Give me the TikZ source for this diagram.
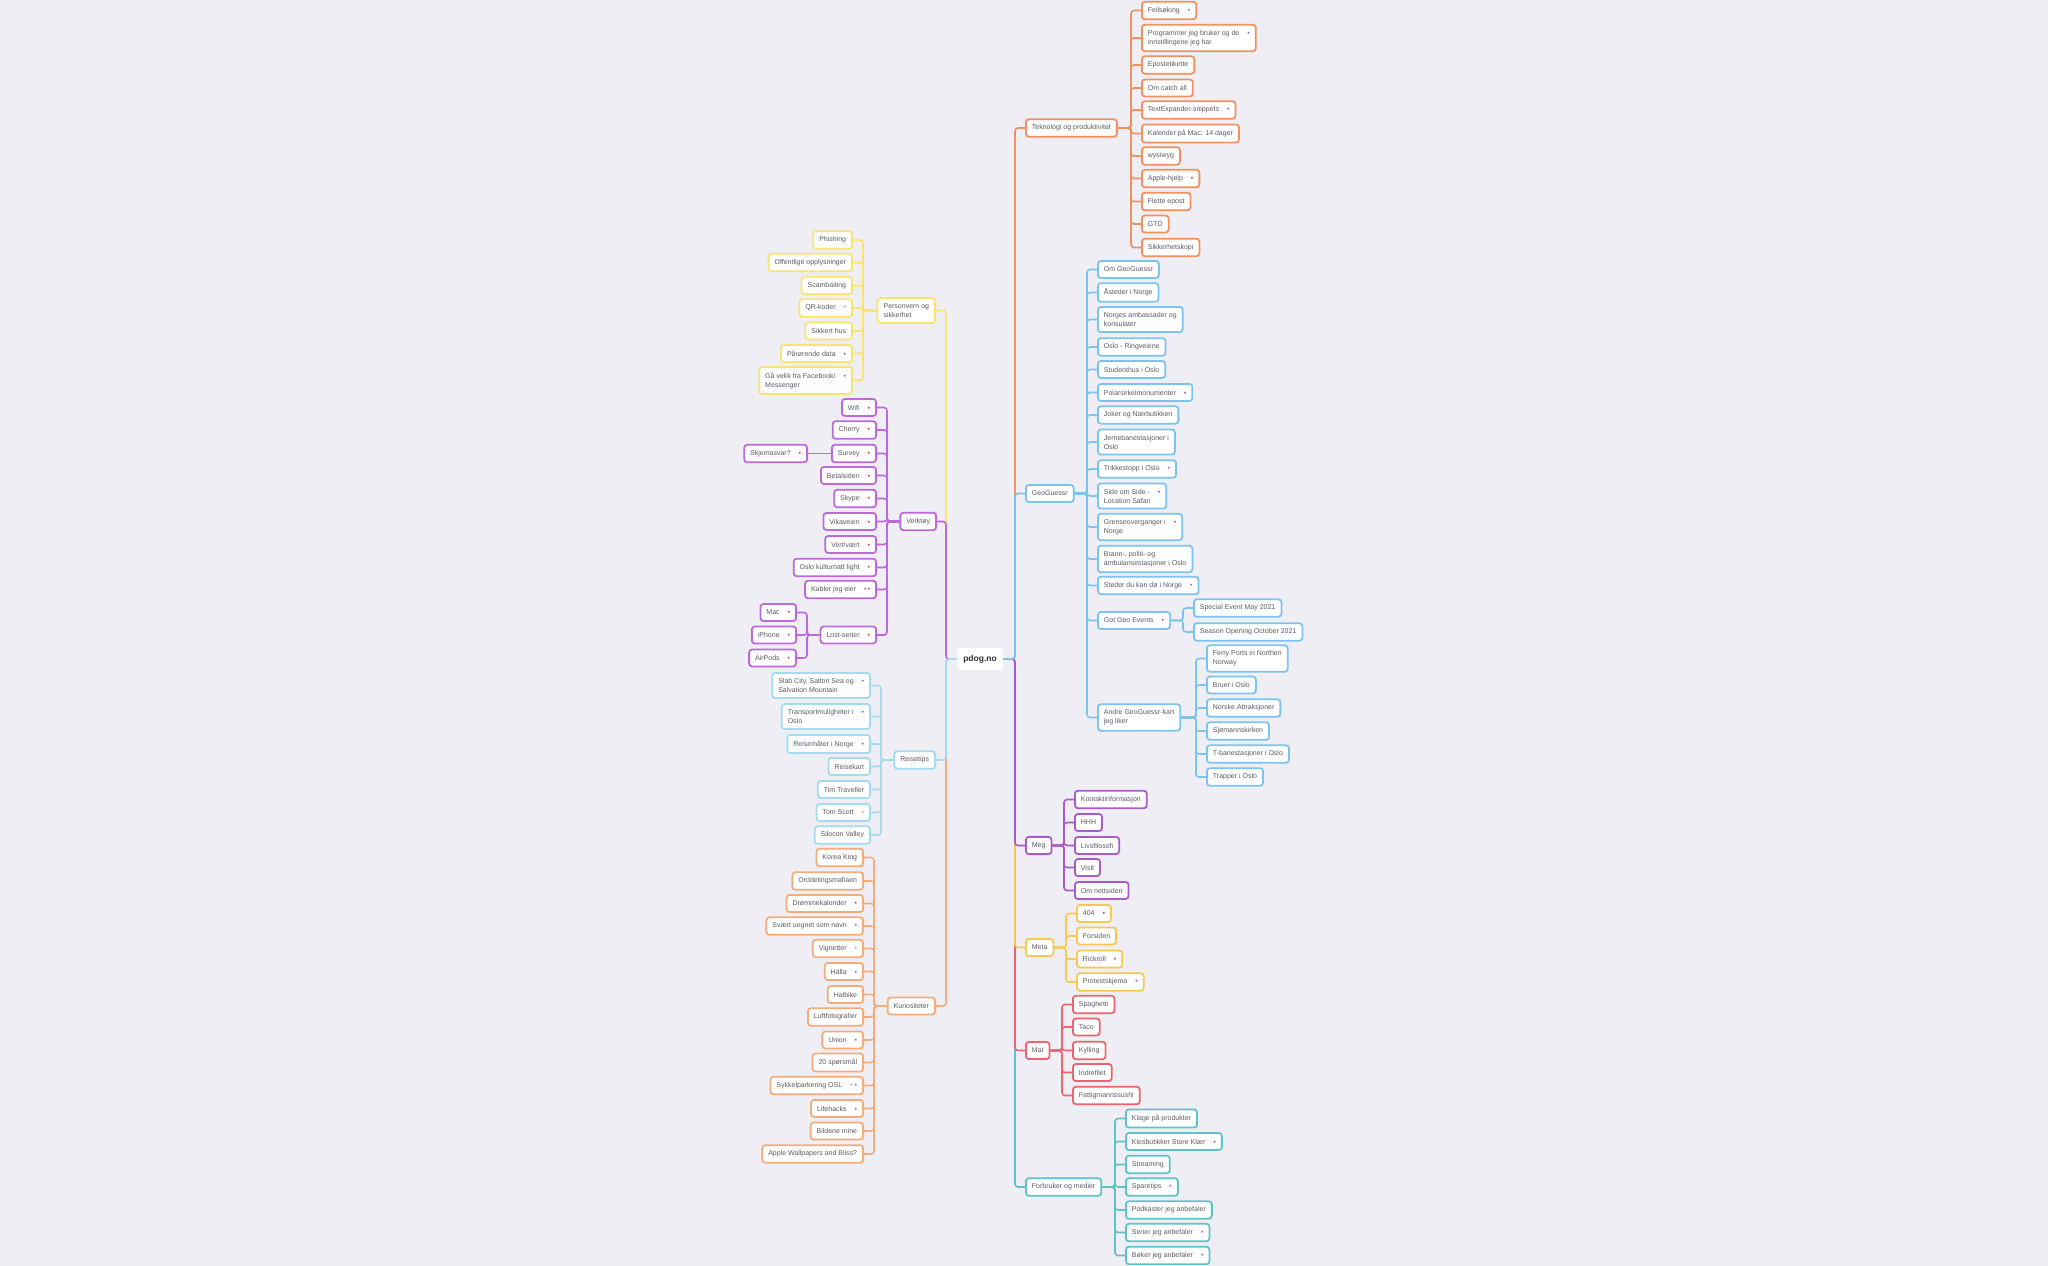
\documentclass[tikz,border=0pt]{standalone}
\usepackage{fontspec}
\setmainfont{Liberation Sans}
\usepackage{tikz}
\usetikzlibrary{calc}

\definecolor{bgmap}{HTML}{EFEEF5}
\definecolor{txtgray}{HTML}{5C5C66}
\definecolor{ctek}{HTML}{F0915F}
\definecolor{cgeo}{HTML}{7DC3F0}
\definecolor{cmeg}{HTML}{A95BC9}
\definecolor{cmeta}{HTML}{F8C850}
\definecolor{cmat}{HTML}{EE646E}
\definecolor{cfor}{HTML}{5EC3C8}
\definecolor{cper}{HTML}{F8E46E}
\definecolor{cverk}{HTML}{BD69DB}
\definecolor{creise}{HTML}{A2DCF0}
\definecolor{ckur}{HTML}{F5AC7A}
\definecolor{dred}{HTML}{D8323C}
\definecolor{dpurple}{HTML}{9E55C8}
\definecolor{dorange}{HTML}{F0A070}
\definecolor{dgray}{HTML}{B4B4BC}

\newcommand\icred{\hspace{8pt}\textcolor{dred}{\textbullet}}
\newcommand\icpurple{\hspace{8pt}\textcolor{dpurple}{\textbullet}}
\newcommand\icorange{\hspace{8pt}\textcolor{dorange}{\textbullet}}
\newcommand\icpr{\hspace{8pt}\textcolor{dpurple}{\textbullet}\hspace{1pt}\textcolor{dred}{\textbullet}}
\newcommand\icgp{\hspace{8pt}\textcolor{dgray}{\textbullet}\hspace{2pt}\textcolor{dpurple}{\textbullet}}

\tikzset{
	leaf/.style={draw, fill=white, rounded corners=3pt, line width=1.8pt, inner xsep=6pt, inner ysep=5.5pt, minimum height=17pt, align=left, text=txtgray, font=\fontsize{7}{9}\selectfont},
	conn/.style={line width=1.6pt, rounded corners=3pt},
}

\begin{document}
\begin{tikzpicture}[x=1pt,y=-1pt]
		\fill[bgmap] (0,0) rectangle (2048,1266);
		\useasboundingbox (0,0) rectangle (2048,1266);
		\node[fill=white, rounded corners=3pt, minimum width=46pt, minimum height=22pt, text=black!80, font=\fontsize{8.5}{10}\selectfont\bfseries] (root) at (980,659) {pdog.no};
		\coordinate (rt) at (1015,659);
		\coordinate (lt) at (946,659);
		% right side
		\node[leaf, draw=ctek, anchor=west] (tek) at (1025,128) {Teknologi og produktivitet};
		\node[leaf, draw=cgeo, anchor=west] (geo) at (1025,493.5) {GeoGuessr};
		\node[leaf, draw=cmeg, anchor=west] (meg) at (1025,845.5) {Meg};
		\node[leaf, draw=cmeta, anchor=west] (meta) at (1025,947.5) {Meta};
		\node[leaf, draw=cmat, anchor=west] (mat) at (1025,1050.5) {Mat};
		\node[leaf, draw=cfor, anchor=west] (for) at (1025,1187) {Forbruker og medier};
		% left side
		\node[leaf, draw=cper, anchor=east] (per) at (936,310.5) {Personvern og\\sikkerhet};
		\node[leaf, draw=cverk, anchor=east] (verk) at (937,521.5) {Verktøy};
		\node[leaf, draw=creise, anchor=east] (reise) at (936,760) {Reisetips};
		\node[leaf, draw=ckur, anchor=east] (kur) at (936,1006) {Kuriositeter};
		% trunk
		\draw[conn, ctek] (root.east) -- (rt) |- (tek.west);
		\draw[conn, cfor] (root.east) -- (rt) |- (for.west);
		\draw[conn, cmat] (root.east) -- (rt) |- (mat.west);
		\draw[conn, cmeta] (root.east) -- (rt) |- (meta.west);
		\draw[conn, cmeg] (root.east) -- (rt) |- (meg.west);
		\draw[conn, cgeo] (root.east) -- (rt) |- (geo.west);
		\draw[conn, cper] (root.west) -- (lt) |- (per.east);
		\draw[conn, ckur] (root.west) -- (lt) |- (kur.east);
		\draw[conn, cverk] (root.west) -- (lt) |- (verk.east);
		\draw[conn, creise] (root.west) -- (lt) |- (reise.east);

		% Teknologi
		\foreach \t/\y [count=\i] in {Feilsøking\icpurple/10.5, Programmer jeg bruker og de\icpurple\\innstillingene jeg har/38, Epostetikette/65, Om catch all/88, TextExpander-snippets\icpurple/110, Kalender på Mac: 14 dager/133.5, wysiwyg/156, Apple-hjelp\icred/178.5, Flette epost/201.5, GTD/224, Sikkerhetskopi/247.5}
		\node[leaf, draw=ctek, anchor=west] (tek-\i) at (1141,\y) {\t};
		\coordinate (tek-j) at ([xshift=-10pt]tek-1.west);
		\foreach \i in {1,...,11}
		\draw[conn, ctek] (tek.east) -- (tek-j |- tek.east) |- (tek-\i.west);

		% GeoGuessr
		\foreach \t/\y [count=\i] in {Om GeoGuessr/269.5, Åsteder i Norge/292.5, Norges ambassader og\\konsulater/319.5, Oslo - Ringveiene/347, Studenthus i Oslo/369.5, Polarsirkelmonumenter\icpurple/392.5, Joker og Nærbutikken/415, Jernebanestasjoner i\\Oslo/442, Trikkestopp i Oslo\icpurple/469, Side om Side -\icpurple\\Location Safari/496, Grenseoverganger i\icpurple\\Norge/527, {Brann-, politi- og\\ambulansestasjoner i Oslo}/559, Steder du kan dø i Norge\icpurple/585.5, Got Geo Events\icred/620.5, Andre GeoGuessr-kart\\jeg liker/717.5}
		\node[leaf, draw=cgeo, anchor=west] (geo-\i) at (1097,\y) {\t};
		\coordinate (geo-j) at ([xshift=-10pt]geo-1.west);
		\foreach \i in {1,...,15}
		\draw[conn, cgeo] (geo.east) -- (geo-j |- geo.east) |- (geo-\i.west);
		\foreach \t/\y [count=\i] in {Special Event May 2021/608, Season Opening October 2021/632}
		\node[leaf, draw=cgeo, anchor=west] (evt-\i) at (1193,\y) {\t};
		\coordinate (evt-j) at ([xshift=-10pt]evt-1.west);
		\foreach \i in {1,2}
		\draw[conn, cgeo] (geo-14.east) -- (evt-j |- geo-14.east) |- (evt-\i.west);
		\foreach \t/\y [count=\i] in {Ferry Ports in Northen\\Norway/658.5, Bruer i Oslo/685, Norske Attraksjoner/708, Sjømannskirken/731, T-banestasjoner i Oslo/754, Trapper i Oslo/777}
		\node[leaf, draw=cgeo, anchor=west] (kart-\i) at (1206,\y) {\t};
		\coordinate (kart-j) at ([xshift=-10pt]kart-1.west);
		\foreach \i in {1,...,6}
		\draw[conn, cgeo] (geo-15.east) -- (kart-j |- geo-15.east) |- (kart-\i.west);

		% Meg, Meta, Mat
		\foreach \t/\y [count=\i] in {Kontaktinformasjon/799.5, HHH/822.5, Livsfilosofi/845.5, Visit/867.5, Om nettsiden/890.5}
		\node[leaf, draw=cmeg, anchor=west] (meg-\i) at (1074,\y) {\t};
		\coordinate (meg-j) at ([xshift=-10pt]meg-1.west);
		\foreach \i in {1,...,5}
		\draw[conn, cmeg] (meg.east) -- (meg-j |- meg.east) |- (meg-\i.west);
		\foreach \t/\y [count=\i] in {404\icred/913.5, Forsiden/936, Rickroll\icred/959, Protestskjema\icpurple/982}
		\node[leaf, draw=cmeta, anchor=west] (meta-\i) at (1076,\y) {\t};
		\coordinate (meta-j) at ([xshift=-10pt]meta-1.west);
		\foreach \i in {1,...,4}
		\draw[conn, cmeta] (meta.east) -- (meta-j |- meta.east) |- (meta-\i.west);
		\foreach \t/\y [count=\i] in {Spaghetti/1004.5, Taco/1027, Kylling/1050.5, Indrefilet/1072.5, Fattigmannssushi/1095.5}
		\node[leaf, draw=cmat, anchor=west] (mat-\i) at (1072,\y) {\t};
		\coordinate (mat-j) at ([xshift=-10pt]mat-1.west);
		\foreach \i in {1,...,5}
		\draw[conn, cmat] (mat.east) -- (mat-j |- mat.east) |- (mat-\i.west);

		% Forbruker og medier
		\foreach \t/\y [count=\i] in {Klage på produkter/1118.5, Klesbutikker Store Klær\icpurple/1141.5, Streaming/1164.5, Sparetips\icpurple/1187, Podkaster jeg anbefaler/1210, Serier jeg anbefaler\icpurple/1232.5, Bøker jeg anbefaler\icpurple/1255.5}
		\node[leaf, draw=cfor, anchor=west] (for-\i) at (1125,\y) {\t};
		\coordinate (for-j) at ([xshift=-10pt]for-1.west);
		\foreach \i in {1,...,7}
		\draw[conn, cfor] (for.east) -- (for-j |- for.east) |- (for-\i.west);

		% Personvern og sikkerhet
		\foreach \t/\y [count=\i] in {Phishing/240, Offentlige opplysninger/262.5, Scambaiting/285.5, QR-koder\icorange/308, Sikkert hus/331, Pårørende data\icpurple/353.5, {Gå vekk fra Facebook/\icpurple\\Messenger}/380.5}
		\node[leaf, draw=cper, anchor=east] (per-\i) at (853,\y) {\t};
		\coordinate (per-j) at ([xshift=10pt]per-1.east);
		\foreach \i in {1,...,7}
		\draw[conn, cper] (per.west) -- (per-j |- per.west) |- (per-\i.east);

		% Verktøy
		\foreach \t/\y [count=\i] in {Wifi\icred/407.5, Cherry\icred/430, Survey\icred/453.5, Betalsiden\icred/475.5, Skype\icred/498.5, Vikaveien\icred/521.5, {Vert/vært\icred}/544.5, Oslo kulturnatt light\icred/567.5, Kabler jeg eier\icpr/589.5, Lost-serier\icred/635}
		\node[leaf, draw=cverk, anchor=east] (verk-\i) at (877,\y) {\t};
		\coordinate (verk-j) at ([xshift=10pt]verk-1.east);
		\foreach \i in {1,...,10}
		\draw[conn, cverk] (verk.west) -- (verk-j |- verk.west) |- (verk-\i.east);
		\node[leaf, draw=cverk, anchor=east] (skj) at (808,453.5) {Skjemasvar?\icred};
		\draw[conn, cverk] (verk-3.west) -- (skj.east);
		\foreach \t/\y [count=\i] in {Mac\icred/612.5, iPhone\icpurple/635, AirPods\icpurple/658}
		\node[leaf, draw=cverk, anchor=east] (lost-\i) at (797,\y) {\t};
		\coordinate (lost-j) at ([xshift=10pt]lost-1.east);
		\foreach \i in {1,2,3}
		\draw[conn, cverk] (verk-10.west) -- (lost-j |- verk-10.west) |- (lost-\i.east);

		% Reisetips
		\foreach \t/\y [count=\i] in {{Slab City, Salton Sea og\icpurple\\Salvation Mountain}/685.5, Transportmuligheter i\icpurple\\Oslo/716.5, Reisemåter i Norge\icpurple/744, Reisekart/766.5, Tim Traveller/789.5, Tom Scott\icorange/812.5, Silocon Valley/835}
		\node[leaf, draw=creise, anchor=east] (reise-\i) at (871,\y) {\t};
		\coordinate (reise-j) at ([xshift=10pt]reise-1.east);
		\foreach \i in {1,...,7}
		\draw[conn, creise] (reise.west) -- (reise-j |- reise.west) |- (reise-\i.east);

		% Kuriositeter
		\foreach \t/\y [count=\i] in {Korea King/857.5, Orddelingsmafiaen/881, Drømmekalender\icpurple/903.5, Svært uegnet som navn\icpurple/926, Vignetter\icorange/948.5, Hälla\icpurple/971.5, Halbike/994.5, Luftfotografier/1017, Union\icpurple/1040, 20 spørsmål/1062.5, Sykkelparkering OSL\icgp/1085.5, Lifehacks\icpurple/1108.5, Bildene mine/1131, Apple Wallpapers and Bliss?/1154}
		\node[leaf, draw=ckur, anchor=east] (kur-\i) at (864,\y) {\t};
		\coordinate (kur-j) at ([xshift=10pt]kur-1.east);
		\foreach \i in {1,...,14}
		\draw[conn, ckur] (kur.west) -- (kur-j |- kur.west) |- (kur-\i.east);
	\end{tikzpicture}
\end{document}
